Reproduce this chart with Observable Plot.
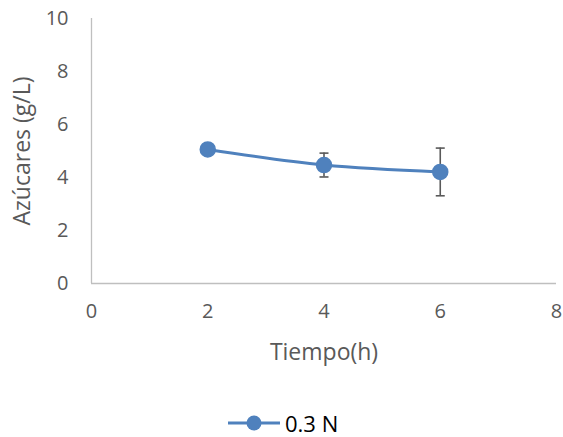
<!DOCTYPE html>
<html>
<head>
<meta charset="utf-8">
<script src="https://cdn.jsdelivr.net/npm/d3@7"></script>
<script src="https://cdn.jsdelivr.net/npm/@observablehq/plot@0.6"></script>
<style>
  html, body { margin: 0; padding: 0; background: #fff; }
  body { width: 563px; height: 437px; overflow: hidden; font-family: "Open Sans", "Liberation Sans", sans-serif; }
  #chart svg { display: block; }
  #legend { position: absolute; left: 226px; top: 410px; display: flex; align-items: center; height: 26px; font-size: 22px; color: #000; }
  #legend span { margin-left: 3px; }
</style>
</head>
<body>
<div id="chart"></div>
<div id="legend"></div>
<script>
const series = "0.3 N";
const tiempo = [2, 4, 6];
const azucares = [5.06, 4.47, 4.21];
const errores = [0, 0.45, 0.9];
const xTicks = [0, 2, 4, 6, 8];
const yTicks = [0, 2, 4, 6, 8, 10];
const xTitle = "Tiempo(h)";
const yTitle = "Azúcares (g/L)";

const color = "#4f81bd";
const gray = "#595959";
const data = tiempo.map((t, i) => ({x: t, y: azucares[i], e: errores[i]}));
const errData = data.filter(d => d.e > 0);

const capSymbol = { draw(ctx) { ctx.moveTo(-4.5, 0); ctx.lineTo(4.5, 0); } };

const chart = Plot.plot({
  width: 563,
  height: 395,
  marginLeft: 91,
  marginRight: 7,
  marginTop: 18,
  marginBottom: 112,
  style: { fontFamily: "'Open Sans', 'Liberation Sans', sans-serif", background: "#fff" },
  x: { domain: [0, 8] },
  y: { domain: [0, 10] },
  marks: [
    Plot.ruleY([0], { stroke: "#bfbfbf", strokeWidth: 1.3 }),
    Plot.ruleX([0], { stroke: "#bfbfbf", strokeWidth: 1.3 }),
    Plot.axisX({ ticks: xTicks, tickSize: 0, tickPadding: 20, fontSize: 20, color: gray, label: null }),
    Plot.axisY({ ticks: yTicks, tickSize: 0, tickPadding: 23, fontSize: 20, color: gray, label: null }),
    Plot.text([xTitle], { frameAnchor: "bottom", dy: 69, lineAnchor: "middle", fontSize: 23, fill: gray }),
    Plot.text([yTitle], { frameAnchor: "left", dx: -69, rotate: -90, textAnchor: "middle", lineAnchor: "middle", fontSize: 23, fill: gray }),
    Plot.ruleX(errData, { x: "x", y1: d => d.y - d.e, y2: d => d.y + d.e, stroke: gray, strokeWidth: 1.6 }),
    Plot.dot(errData, { x: "x", y: d => d.y - d.e, symbol: capSymbol, stroke: gray, strokeWidth: 1.6 }),
    Plot.dot(errData, { x: "x", y: d => d.y + d.e, symbol: capSymbol, stroke: gray, strokeWidth: 1.6 }),
    Plot.line(data, { x: "x", y: "y", curve: "catmull-rom", stroke: color, strokeWidth: 3 }),
    Plot.dot(data, { x: "x", y: "y", r: 7.5, fill: color, stroke: color })
  ]
});
document.getElementById("chart").appendChild(chart);

const leg = document.getElementById("legend");
leg.innerHTML = `<svg width="56" height="20"><line x1="2" x2="54" y1="10" y2="10" stroke="${color}" stroke-width="3"/><circle cx="28" cy="10" r="7.5" fill="${color}"/></svg><span>${series}</span>`;
</script>
</body>
</html>
